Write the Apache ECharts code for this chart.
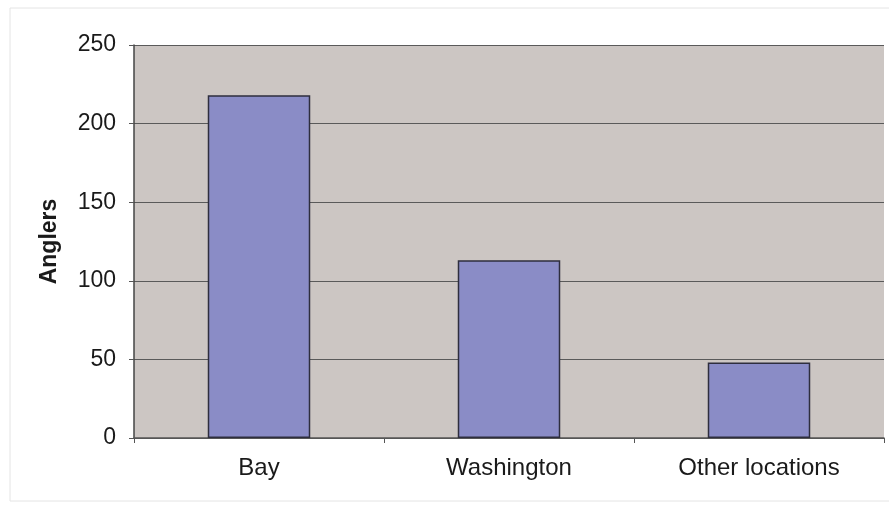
<!DOCTYPE html>
<html>
<head>
<meta charset="utf-8">
<script src="https://cdn.jsdelivr.net/npm/echarts@6/dist/echarts.min.js"></script>
<style>
html,body{margin:0;padding:0;background:#fff;}
#chart{width:889px;height:512px;}
</style>
</head>
<body>
<div id="chart"></div>
<script>
// Anglers by fishing location
const locations = ['Bay', 'Washington', 'Other locations'];
const anglers = [218, 113, 48];
const yTicks = [0, 50, 100, 150, 200, 250];

const chart = echarts.init(document.getElementById('chart'));
chart.setOption({
  backgroundColor: '#ffffff',
  animation: false,
  textStyle: { fontFamily: 'Liberation Sans, Arial, sans-serif' },
  graphic: [{
    type: 'rect',
    shape: { x: 10, y: 8, width: 884, height: 493 },
    style: { fill: 'none', stroke: '#e4e4e4', lineWidth: 1 },
    silent: true, z: -1
  }],
  grid: {
    left: 134, right: 5, top: 45, bottom: 74,
    show: true, backgroundColor: '#ccc6c3', borderWidth: 0
  },
  xAxis: {
    type: 'category',
    data: locations,
    axisLine: { lineStyle: { color: '#555', width: 1.5 } },
    axisTick: { show: true, length: 5, lineStyle: { color: '#555' } },
    axisLabel: { color: '#1a1a1a', fontSize: 24, margin: 18 }
  },
  yAxis: {
    type: 'value',
    min: yTicks[0], max: yTicks[yTicks.length - 1], interval: 50,
    name: 'Anglers',
    nameLocation: 'middle',
    nameGap: 73,
    nameTextStyle: { color: '#1a1a1a', fontSize: 23, fontWeight: 'bold' },
    axisLine: { show: true, lineStyle: { color: '#444', width: 1.5 } },
    axisTick: { show: true, length: 5, lineStyle: { color: '#555' } },
    axisLabel: { color: '#1a1a1a', fontSize: 23, margin: 18 },
    splitLine: { show: true, lineStyle: { color: '#5a5a5a', width: 1 } }
  },
  series: [{
    type: 'bar',
    data: anglers,
    barWidth: '41%',
    itemStyle: { color: '#8a8cc6', borderColor: '#2e2e3e', borderWidth: 1.5 }
  }]
});
</script>
</body>
</html>
